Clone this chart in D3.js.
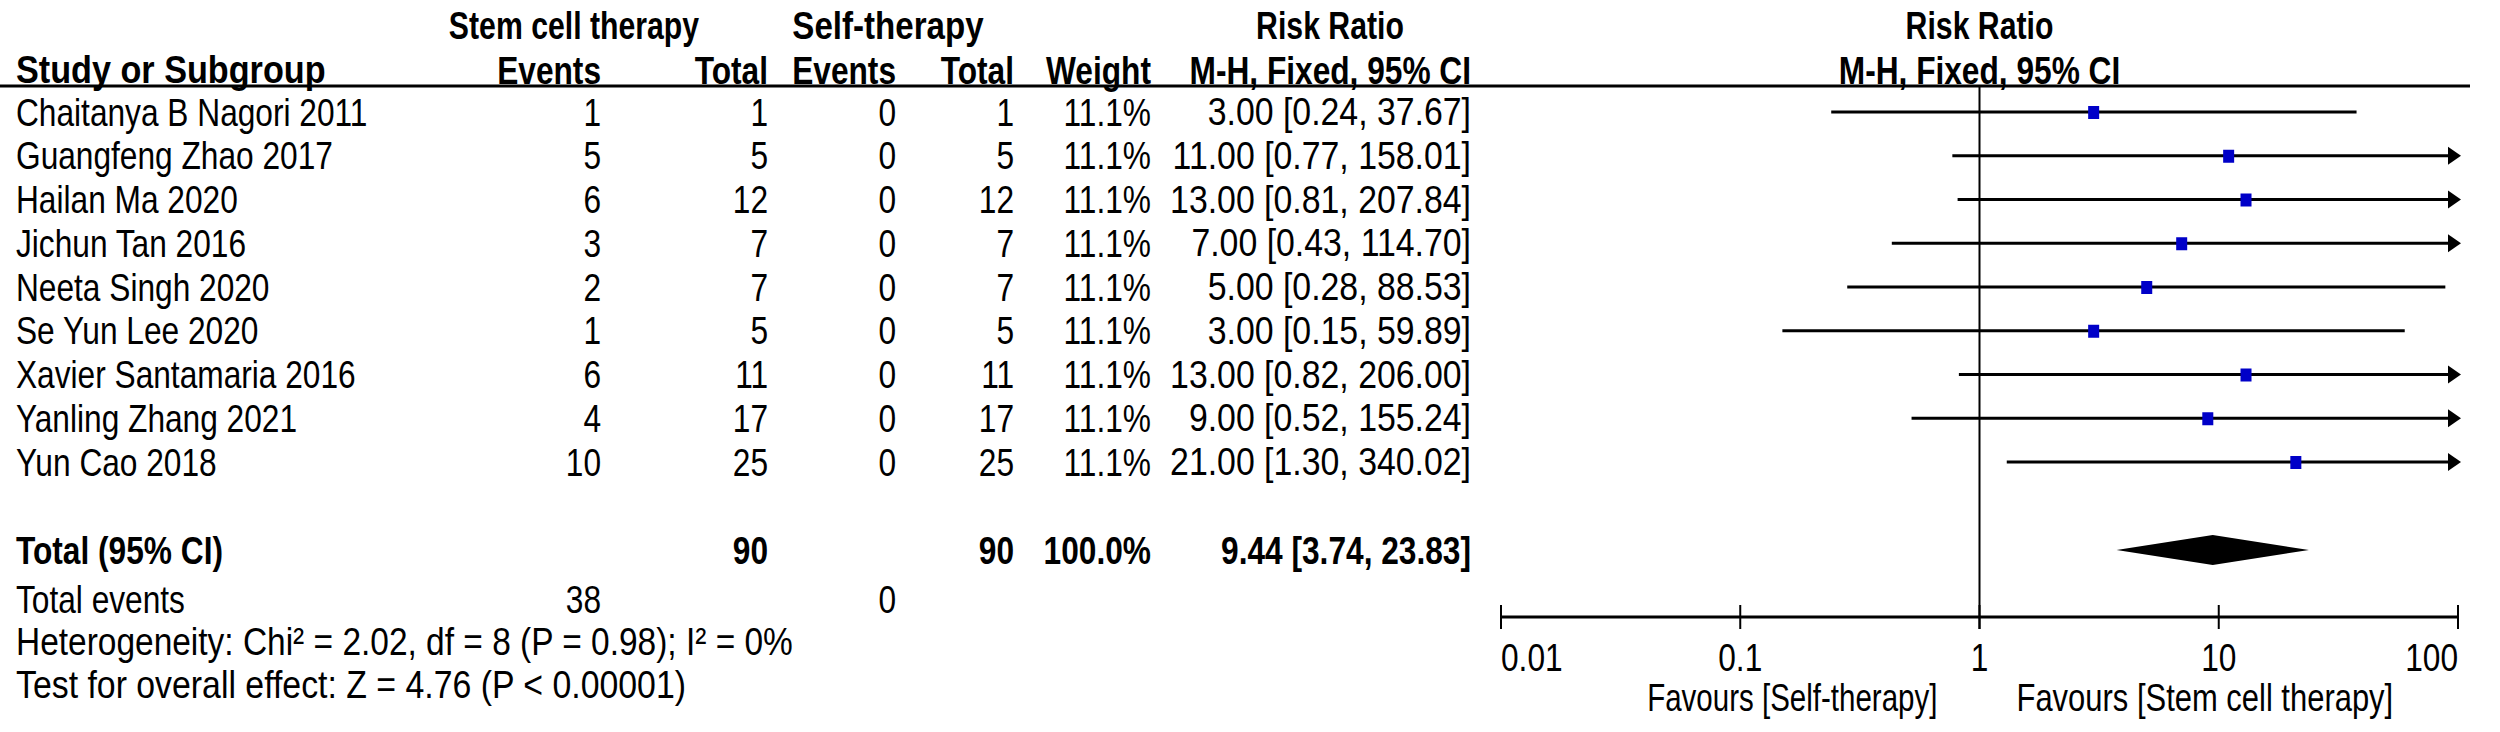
<!DOCTYPE html>
<html>
<head>
<meta charset="utf-8">
<script src="https://cdn.jsdelivr.net/npm/d3@7"></script>
<style>
  html, body { margin: 0; padding: 0; background: #fff; }
  svg text { font-family: "Liberation Sans", Arial, sans-serif; fill: #000; }
</style>
</head>
<body>
<svg id="chart" width="2500" height="732"></svg>
<script>
// study rows
const studies = ['Chaitanya B Nagori 2011','Guangfeng Zhao 2017','Hailan Ma 2020','Jichun Tan 2016','Neeta Singh 2020','Se Yun Lee 2020','Xavier Santamaria 2016','Yanling Zhang 2021','Yun Cao 2018'];
const stemEvents = [1, 5, 6, 3, 2, 1, 6, 4, 10];
const stemTotal = [1, 5, 12, 7, 7, 5, 11, 17, 25];
const selfEvents = [0, 0, 0, 0, 0, 0, 0, 0, 0];
const selfTotal = [1, 5, 12, 7, 7, 5, 11, 17, 25];
const weights = [11.1, 11.1, 11.1, 11.1, 11.1, 11.1, 11.1, 11.1, 11.1];
const rr = [3.00, 11.00, 13.00, 7.00, 5.00, 3.00, 13.00, 9.00, 21.00];
const ciLow = [0.24, 0.77, 0.81, 0.43, 0.28, 0.15, 0.82, 0.52, 1.30];
const ciHigh = [37.67, 158.01, 207.84, 114.70, 88.53, 59.89, 206.00, 155.24, 340.02];

// pooled result
const totalStem = 90, totalSelf = 90, totalWeight = 100.0;
const pooled = {rr: 9.44, lo: 3.74, hi: 23.83};
const eventsStem = 38, eventsSelf = 0;
const heterogeneity = 'Heterogeneity: Chi\u00B2 = 2.02, df = 8 (P = 0.98); I\u00B2 = 0%';
const overallTest = 'Test for overall effect: Z = 4.76 (P < 0.00001)';

const axisTicks = [0.01, 0.1, 1, 10, 100];
const favoursLeft = 'Favours [Self-therapy]';
const favoursRight = 'Favours [Stem cell therapy]';

const svg = d3.select('#chart');
const FS = 36, SX = 0.88;   // narrow-looking text: squeeze horizontally

const x = d3.scaleLog().domain([0.01, 100]).range([1501, 2458]);
const y = d3.scalePoint().domain(studies).range([112, 462]);
const yTotal = 550, yEvents = 599, yHet = 642, yTest = 685, yAxis = 617;

const col = {name: 16, se: 601, st: 768, fe: 896, ft: 1014, w: 1151, ci: 1471};

function txt(g, s, xx, yy, anchor, bold, sx) {
  return g.append('text').attr('transform', `translate(${xx},${yy}) scale(${sx || SX},1.06)`)
    .attr('dominant-baseline', 'central')
    .attr('text-anchor', anchor || 'start').style('font-size', FS + 'px')
    .style('font-weight', bold ? 'bold' : 'normal').text(s);
}
const fmt2 = d3.format('.2f');
const ciText = (r, l, h) => `${fmt2(r)} [${fmt2(l)}, ${fmt2(h)}]`;

// headers
const head = svg.append('g');
txt(head, 'Stem cell therapy', 574, 26, 'middle', true, 0.84);
txt(head, 'Self-therapy', 888, 26, 'middle', true, 0.92);
txt(head, 'Risk Ratio', 1330, 26, 'middle', true, 0.84);
txt(head, 'Risk Ratio', x(1), 26, 'middle', true, 0.84);
txt(head, 'Study or Subgroup', col.name, 70, 'start', true, 0.95);
txt(head, 'Events', col.se, 70, 'end', true);
txt(head, 'Total', col.st, 70, 'end', true);
txt(head, 'Events', col.fe, 70, 'end', true);
txt(head, 'Total', col.ft, 70, 'end', true);
txt(head, 'Weight', col.w, 70, 'end', true);
txt(head, 'M-H, Fixed, 95% CI', col.ci, 70, 'end', true);
txt(head, 'M-H, Fixed, 95% CI', x(1), 70, 'middle', true);
svg.append('line').attr('x1', 0).attr('x2', 2470).attr('y1', 86).attr('y2', 86)
  .attr('stroke', '#000').attr('stroke-width', 3);

// table rows
const rows = svg.append('g');
studies.forEach((s, i) => {
  const yy = y(s);
  txt(rows, s, col.name, yy);
  txt(rows, stemEvents[i], col.se, yy, 'end');
  txt(rows, stemTotal[i], col.st, yy, 'end');
  txt(rows, selfEvents[i], col.fe, yy, 'end');
  txt(rows, selfTotal[i], col.ft, yy, 'end');
  txt(rows, d3.format('.1f')(weights[i]) + '%', col.w, yy, 'end');
  txt(rows, ciText(rr[i], ciLow[i], ciHigh[i]), col.ci, yy, 'end', false, 0.94);
});
txt(rows, 'Total (95% CI)', col.name, yTotal, 'start', true);
txt(rows, totalStem, col.st, yTotal, 'end', true);
txt(rows, totalSelf, col.ft, yTotal, 'end', true);
txt(rows, d3.format('.1f')(totalWeight) + '%', col.w, yTotal, 'end', true);
txt(rows, ciText(pooled.rr, pooled.lo, pooled.hi), col.ci, yTotal, 'end', true);
txt(rows, 'Total events', col.name, yEvents);
txt(rows, eventsStem, col.se, yEvents, 'end');
txt(rows, eventsSelf, col.fe, yEvents, 'end');
txt(rows, heterogeneity, col.name, yHet, 'start', false, 0.93);
txt(rows, overallTest, col.name, yTest, 'start', false, 0.94);

// forest plot
const plot = svg.append('g');
plot.append('line').attr('x1', x(1)).attr('x2', x(1)).attr('y1', 86).attr('y2', yAxis + 12)
  .attr('stroke', '#000').attr('stroke-width', 2);

const [xmin, xmax] = x.domain();
studies.forEach((s, i) => {
  const yy = y(s);
  const lo = Math.max(ciLow[i], xmin), hi = Math.min(ciHigh[i], xmax);
  plot.append('line').attr('x1', x(lo)).attr('x2', x(hi)).attr('y1', yy).attr('y2', yy)
    .attr('stroke', '#000').attr('stroke-width', 3);
  if (ciHigh[i] > xmax) {
    plot.append('path').attr('d', `M${x(xmax) - 10},${yy - 9}L${x(xmax) + 3},${yy}L${x(xmax) - 10},${yy + 9}Z`).attr('fill', '#000');
  }
  if (ciLow[i] < xmin) {
    plot.append('path').attr('d', `M${x(xmin) + 10},${yy - 9}L${x(xmin) - 3},${yy}L${x(xmin) + 10},${yy + 9}Z`).attr('fill', '#000');
  }
  plot.append('rect').attr('x', x(rr[i]) - 5.5).attr('y', yy - 6).attr('width', 11).attr('height', 13)
    .attr('fill', '#0000C8');
});

// pooled diamond
plot.append('path')
  .attr('d', `M${x(pooled.lo)},${yTotal}L${x(pooled.rr)},${yTotal - 15}L${x(pooled.hi)},${yTotal}L${x(pooled.rr)},${yTotal + 15}Z`)
  .attr('fill', '#000');

// axis
plot.append('line').attr('x1', x(xmin)).attr('x2', x(xmax)).attr('y1', yAxis).attr('y2', yAxis)
  .attr('stroke', '#000').attr('stroke-width', 3);
axisTicks.forEach((t, i) => {
  plot.append('line').attr('x1', x(t)).attr('x2', x(t)).attr('y1', yAxis - 12).attr('y2', yAxis + 12)
    .attr('stroke', '#000').attr('stroke-width', 2);
  const anchor = i === 0 ? 'start' : (i === axisTicks.length - 1 ? 'end' : 'middle');
  txt(plot, d3.format('~g')(t), x(t), yAxis + 40, anchor);
});
txt(plot, favoursLeft, x(1) - 42, yAxis + 81, 'end', false, 0.82);
txt(plot, favoursRight, x(1) + 37, yAxis + 81, 'start', false, 0.86);
</script>
</body>
</html>
